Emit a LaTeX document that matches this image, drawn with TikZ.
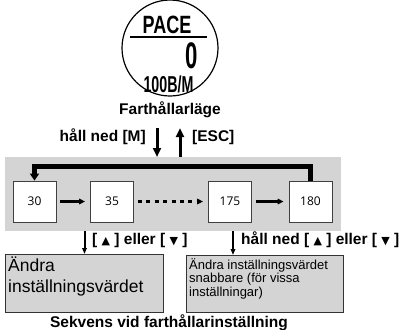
\documentclass[tikz,border=0pt]{standalone}
\usepackage{fontspec}
\setmainfont{Liberation Sans}
\newfontfamily\numfont{Open Sans}
\newfontfamily\symfont{DejaVu Sans}
\usetikzlibrary{arrows.meta, positioning}

\definecolor{panelgray}{HTML}{D4D4D4}
\newcommand{\lcdtext}[2]{\scalebox{#1}[1]{#2}}
\newcommand{\up}{{\symfont\fontsize{11}{11}\selectfont ▲}}
\newcommand{\down}{{\symfont\fontsize{11}{11}\selectfont ▼}}

\begin{document}
\begin{tikzpicture}[x=1pt, y=-1pt,
    valbox/.style={draw=black!75, fill=white, line width=0.8pt, minimum width=43pt, minimum height=41pt, inner sep=0pt, font=\numfont\fontsize{12}{14}\selectfont},
    infobox/.style={draw=black!80, fill=panelgray, line width=1pt, anchor=north west, inner sep=0pt},
    lbl/.style={font=\fontsize{15.5}{18}\selectfont\bfseries, inner sep=0pt},
    lcd/.style={inner sep=0pt, anchor=base},
    arr/.style={-{Triangle[length=9pt, width=8pt]}, line width=3pt},
    looparr/.style={-{Triangle[length=7pt, width=9pt]}, line width=4.5pt},
    steparr/.style={-{Triangle[length=6pt, width=5.5pt]}, line width=2.5pt, shorten <=4pt, shorten >=5pt},
    thinarr/.style={-{Triangle[length=6pt, width=4.5pt]}, line width=2pt},
  ]
  \useasboundingbox (0,0) rectangle (408,330);

  % watch display
  \node[draw, circle, line width=1.2pt, minimum size=96pt, inner sep=0pt] (disp) at (170,48) {};
  \node[lcd, font=\fontsize{25}{25}\selectfont\bfseries] (pace) at (167,33) {\lcdtext{0.72}{PACE}};
  \draw[line width=2pt] (130,37) -- (207,37);
  \node[lcd, font=\fontsize{37}{37}\selectfont\bfseries] (val) at (191.5,68) {\lcdtext{0.6}{0}};
  \node[lcd, font=\fontsize{23}{23}\selectfont\bfseries] (unit) at (168.5,92) {\lcdtext{0.62}{100B/M}};
  \node[lbl, anchor=base] (mode) at (170,114) {Farthållarläge};

  % value sequence
  \node[fill=panelgray, anchor=north west, minimum width=336pt, minimum height=74pt, inner sep=0pt] (panel) at (5,157) {};
  \node[valbox] (v30) at (34.5,201.5) {30};
  \node[valbox] (v35) at (112,201.5) {35};
  \node[valbox] (v175) at (230,201.5) {175};
  \node[valbox] (v180) at (310.5,201.5) {180};

  \draw[steparr] (v30) -- (v35);
  \draw[steparr, dash pattern=on 4pt off 4.4pt, line width=3.5pt] (v35) -- (v175);
  \draw[steparr] (v175) -- (v180);
  \draw[looparr] (v180.north) -- ++(0,-14) -| (v30.north);

  % enter / leave
  \coordinate (hold) at (157,128);
  \coordinate (esc) at (180,128);
  \node[lbl, anchor=base east] (holdlbl) at (146,141) {håll ned [M]};
  \node[lbl, anchor=base west] (esclbl) at (192,141) {[ESC]};
  \draw[arr] (hold) -- (hold |- panel.north);
  \draw[arr] (esc |- panel.north) -- (esc);

  % changing the value
  \node[infobox, minimum width=158pt, minimum height=58pt] (chg) at (5,254) {};
  \node[infobox, minimum width=157pt, minimum height=57pt] (fast) at (186,255) {};
  \node[anchor=north west, align=left, inner sep=0pt, font=\fontsize{17.5}{21}\selectfont] (chgtxt) at (8,257) {Ändra\\inställningsvärdet};
  \node[anchor=north west, align=left, inner sep=0pt, font=\fontsize{13}{13.5}\selectfont] (fasttxt) at (189,258) {Ändra inställningsvärdet\\snabbare (för vissa\\inställningar)};

  \coordinate (fastin) at (233,231);
  \draw[thinarr] (chg.north |- panel.south) -- (chg.north);
  \draw[thinarr] (fastin) -- (fastin |- fast.north);
  \node[lbl, anchor=base west] (steplbl) at (92,244) {[ \up\ ] eller [ \down\ ]};
  \node[lbl, anchor=base west] (fastlbl) at (241,244) {håll ned [ \up\ ] eller [ \down\ ]};

  \node[lbl, anchor=base] (caption) at (169,327) {Sekvens vid farthållarinställning};
\end{tikzpicture}
\end{document}
